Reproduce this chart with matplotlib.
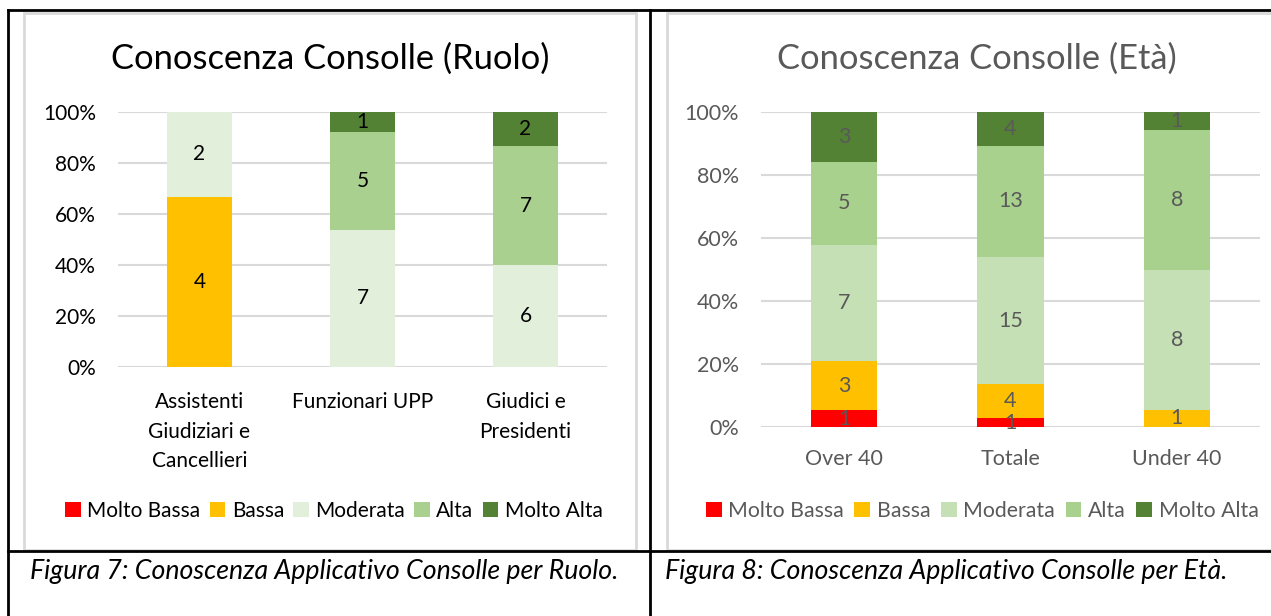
import numpy as np
import matplotlib
matplotlib.use('Agg')
import matplotlib.pyplot as plt
from matplotlib.patches import Rectangle, Patch
from matplotlib.lines import Line2D

plt.rcParams["font.family"] = ["Lato", "DejaVu Sans"]

W, H = 1271, 616

levels = ['Molto Bassa', 'Bassa', 'Moderata', 'Alta', 'Molto Alta']

# figura 7 - per ruolo
ruolo_cats = ['Assistenti\nGiudiziari e\nCancellieri', 'Funzionari UPP', 'Giudici e\nPresidenti']
ruolo_counts = np.array([
    [0, 0, 0],   # Molto Bassa
    [4, 0, 0],   # Bassa
    [2, 7, 6],   # Moderata
    [0, 5, 7],   # Alta
    [0, 1, 2],   # Molto Alta
])
ruolo_colors = ['#FF0000', '#FFC000', '#E2EFDA', '#A9D08E', '#548235']

# figura 8 - per eta
eta_cats = ['Over 40', 'Totale', 'Under 40']
eta_counts = np.array([
    [1, 1, 0],
    [3, 4, 1],
    [7, 15, 8],
    [5, 13, 8],
    [3, 4, 1],
])
eta_colors = ['#FF0000', '#FFC000', '#C5E0B4', '#A9D18E', '#548235']


def px_rect(x0, y0, x1, y1):
    # pixel box (top-left origin) -> figure fraction [l, b, w, h]
    return [x0 / W, 1 - y1 / H, (x1 - x0) / W, (y1 - y0) / H]


def px_line(fig, x0, y0, x1, y1, color='k', lw=2.0):
    fig.add_artist(Line2D([x0 / W, x1 / W], [1 - y0 / H, 1 - y1 / H],
                          transform=fig.transFigure, color=color, lw=lw))


def stacked(ax, cats, counts, colors, txt_color, fs):
    totals = counts.sum(axis=0)
    pct = counts / totals * 100
    x = np.arange(len(cats))
    bottom = np.zeros(len(cats))
    for i in range(len(counts)):
        ax.bar(x, pct[i], 0.4, bottom=bottom, color=colors[i], zorder=3)
        for j in range(len(cats)):
            if counts[i, j] > 0:
                ax.text(x[j], bottom[j] + pct[i, j] / 2, str(counts[i, j]),
                        ha='center', va='center', fontsize=fs, color=txt_color, zorder=4)
        bottom += pct[i]
    ax.set_xlim(-0.5, len(cats) - 0.5)
    ax.set_ylim(0, 100)
    ax.set_yticks(np.arange(0, 101, 20))
    ax.set_yticklabels([f'{v}%' for v in range(0, 101, 20)])
    ax.set_xticks(x)
    ax.set_xticklabels(cats, linespacing=1.6)
    for s in ax.spines.values():
        s.set_visible(False)
    ax.tick_params(length=0, labelsize=fs, labelcolor=txt_color)
    ax.tick_params(axis='y', pad=16)
    ax.grid(axis='y', color='#D9D9D9', lw=1.5, zorder=0)
    ax.set_axisbelow(True)


fig = plt.figure(figsize=(W / 100, H / 100), dpi=100)

# chart frames
fig.add_artist(Rectangle((24 / W, 1 - 550 / H), (636 - 24) / W, (550 - 13) / H,
                         transform=fig.transFigure, fill=False, ec='#D9D9D9', lw=2))
fig.add_artist(Rectangle((667 / W, 1 - 550 / H), (1290 - 667) / W, (550 - 13) / H,
                         transform=fig.transFigure, fill=False, ec='#D9D9D9', lw=2))

ax1 = fig.add_axes(px_rect(118, 112, 607, 367))
stacked(ax1, ruolo_cats, ruolo_counts, ruolo_colors, 'black', 15)
ax1.tick_params(axis='x', pad=18)
fig.text(330 / W, 1 - 59 / H, 'Conoscenza Consolle (Ruolo)', ha='center', va='center',
         fontsize=24.8, color='black')

ax2 = fig.add_axes(px_rect(761, 112, 1260, 427))
stacked(ax2, eta_cats, eta_counts, eta_colors, '#595959', 15.5)
ax2.tick_params(axis='x', pad=16)
fig.text(977 / W, 1 - 59 / H, 'Conoscenza Consolle (Età)', ha='center', va='center',
         fontsize=24.8, color='#595959')

h1 = [Patch(fc=c, ec='none') for c in ruolo_colors]
fig.legend(h1, levels, loc='center', bbox_to_anchor=(334 / W, 1 - 511 / H), ncol=5,
           frameon=False, fontsize=15, handlelength=0.75, handleheight=0.75,
           handletextpad=0.3, columnspacing=0.45, labelcolor='black')
h2 = [Patch(fc=c, ec='none') for c in eta_colors]
fig.legend(h2, levels, loc='center', bbox_to_anchor=(982 / W, 1 - 511 / H), ncol=5,
           frameon=False, fontsize=15.3, handlelength=0.75, handleheight=0.75,
           handletextpad=0.3, columnspacing=0.5, labelcolor='#595959')

# table borders
px_line(fig, 8, 10, W, 10)
px_line(fig, 8, 10, 8, H)
px_line(fig, 650, 10, 650, H)
px_line(fig, 8, 551, W, 551)

fig.text(30 / W, 1 - 571 / H, 'Figura 7: Conoscenza Applicativo Consolle per Ruolo.',
         ha='left', va='center', fontsize=19.3, style='italic')
fig.text(665 / W, 1 - 571 / H, 'Figura 8: Conoscenza Applicativo Consolle per Età.',
         ha='left', va='center', fontsize=19.3, style='italic')

fig.savefig('out.png', dpi=100)
